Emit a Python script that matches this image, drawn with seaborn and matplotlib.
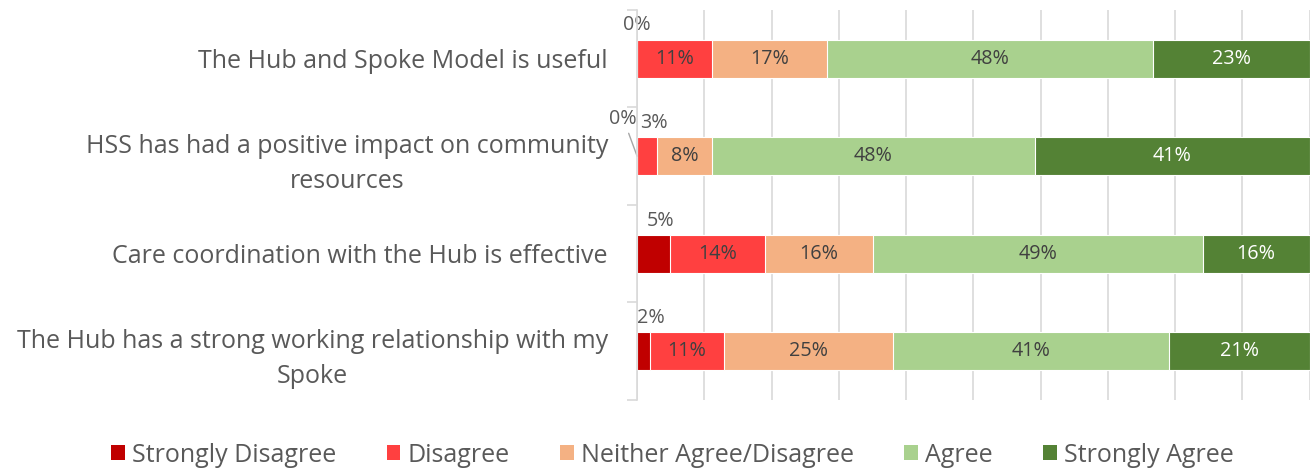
import seaborn as sns
import matplotlib.pyplot as plt
import numpy as np
from matplotlib.patches import Patch

# survey statements, top to bottom
statements = [
    "The Hub and Spoke Model is useful",
    "HSS has had a positive impact on community\nresources",
    "Care coordination with the Hub is effective",
    "The Hub has a strong working relationship with my\nSpoke",
]
responses = ["Strongly Disagree", "Disagree", "Neither Agree/Disagree",
             "Agree", "Strongly Agree"]

# percentages per response
strongly_disagree = [0.0, 0.0, 4.9, 1.9]
disagree = [11.1, 3.0, 14.1, 11.0]
neither = [17.2, 8.2, 16.1, 25.1]
agree = [48.4, 47.9, 49.0, 41.1]
strongly_agree = [23.3, 40.9, 15.9, 20.9]

colors = ["#C00000", "#FF4040", "#F4B183", "#A9D18E", "#548235"]

sns.set_theme(style="white")
plt.rcParams["font.family"] = ["Open Sans", "DejaVu Sans"]

vals = np.array([strongly_disagree, disagree, neither, agree, strongly_agree]).T
cum = vals.cumsum(axis=1)

fig, ax = plt.subplots(figsize=(13.11, 4.72), dpi=100)
fig.subplots_adjust(left=0.486, right=0.999, top=0.979, bottom=0.1525)

# stacked bars: draw cumulative totals from the widest layer down
for i in reversed(range(len(responses))):
    sns.barplot(x=cum[:, i], y=statements, color=colors[i], saturation=1,
                width=0.39, edgecolor="white", linewidth=0.8, orient="h",
                ax=ax, zorder=2)

ax.set_xlim(0, 100)
ax.set_ylim(3.5, -0.5)
ax.set_xticks(np.arange(0, 101, 10))
ax.set_xticklabels([])
ax.tick_params(axis="x", length=0)
ax.grid(axis="x", color="#D9D9D9", linewidth=1.2, zorder=0)
ax.set_axisbelow(True)
ax.set_xlabel("")
ax.set_ylabel("")

for side in ["top", "right", "bottom"]:
    ax.spines[side].set_visible(False)
ax.spines["left"].set_color("#D9D9D9")
ax.spines["left"].set_linewidth(1.2)
ax.spines["left"].set_zorder(3)

ax.set_yticks(np.arange(-0.5, 4, 1), minor=True)
ax.tick_params(axis="y", which="minor", left=True, length=7, width=1.2,
               color="#D9D9D9")
ax.tick_params(axis="y", which="major", length=0, pad=21,
               labelsize=18, labelcolor="#595959")
for lab in ax.get_yticklabels():
    lab.set_horizontalalignment("right")
    lab.set_multialignment("center")
    lab.set_linespacing(1.5)

# value labels
lab_size = 14.2
for r in range(len(statements)):
    for i in range(len(responses)):
        v = vals[r, i]
        left = cum[r, i] - v
        mid = left + v / 2
        txt = f"{v:.0f}%"
        if v >= 6:
            ax.text(mid, r, txt, ha="center", va="center", fontsize=lab_size,
                    color="white" if i == 4 else "#404040", zorder=4)
        elif v == 0 and i == 0 and vals[r, 1] < 6:
            ax.annotate(txt, xy=(0, r), xytext=(-10, 27),
                        textcoords="offset points", ha="center", va="center",
                        fontsize=lab_size, color="#595959",
                        arrowprops=dict(arrowstyle="-", color="#A6A6A6",
                                        lw=1, shrinkA=1, shrinkB=0))
        elif v < 6 and (v > 0 or i == 0):
            ax.annotate(txt, xy=(mid, r - 0.195),
                        xytext=(5 if v > 0 else 0, 3),
                        textcoords="offset points", ha="center", va="bottom",
                        fontsize=lab_size, color="#595959")

handles = [Patch(facecolor=c, edgecolor="none") for c in colors]
fig.legend(handles, responses, loc="center", bbox_to_anchor=(0.513, 0.036),
           ncol=5, frameon=False, fontsize=18, labelcolor="#595959",
           handlelength=0.55, handleheight=0.55, handletextpad=0.3,
           columnspacing=2.0)

fig.savefig("out.png", dpi=100)
